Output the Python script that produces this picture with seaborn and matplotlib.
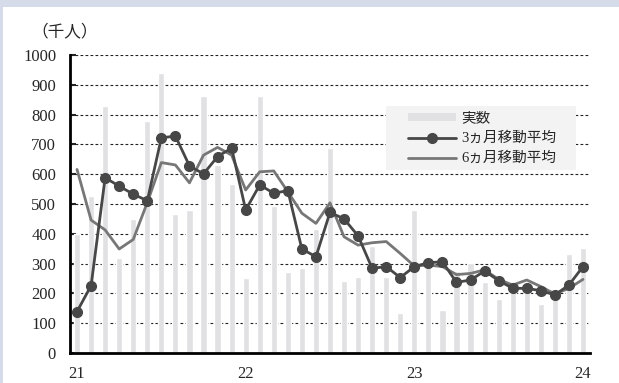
import numpy as np
import pandas as pd
import matplotlib
matplotlib.use("Agg")
import matplotlib.pyplot as plt
from matplotlib.patches import Patch, Rectangle
from matplotlib.lines import Line2D
import seaborn as sns

# monthly data, Jan 2021 - Jan 2024 (thousand people)
months = list(range(37))
actual = [400, 528, 830, 320, 450, 778, 940, 465, 480, 862, 630, 567,
          252, 862, 494, 272, 285, 417, 689, 243, 255, 360, 255, 134,
          480, 290, 144, 275, 303, 239, 180, 225, 212, 164, 200, 332,
          352]
ma3 = [139, 226, 588, 560, 533, 511, 722, 728, 628, 601, 659, 688,
       480, 564, 536, 545, 349, 323, 472, 450, 393, 284, 290, 253,
       290, 303, 306, 237, 245, 275, 243, 217, 217, 209, 195, 228,
       290]
ma6 = [616, 446, 413, 349, 381, 505, 639, 631, 571, 664, 690, 664,
       547, 608, 611, 541, 469, 435, 504, 390, 362, 370, 374, 334,
       292, 295, 290, 263, 267, 279, 247, 228, 245, 223, 198, 217,
       247]
year_ticks = [0, 12, 24, 36]
year_labels = ["21", "22", "23", "24"]

df = pd.DataFrame({"month": months, "actual": actual, "ma3": ma3, "ma6": ma6})

sns.set_style("white")
plt.rcParams["font.family"] = ["Liberation Serif", "Noto Sans CJK JP"]

fig = plt.figure(figsize=(6.19, 3.83), dpi=100)
fig.patch.set_facecolor("white")
# lavender page border (top and left strips)
fig.patches.append(Rectangle((0, 1 - 7 / 383), 1, 7 / 383, transform=fig.transFigure,
                             facecolor="#d5dbe9", edgecolor="none", zorder=-1))
fig.patches.append(Rectangle((0, 0), 3 / 619, 1, transform=fig.transFigure,
                             facecolor="#d5dbe9", edgecolor="none", zorder=-1))
ax = fig.add_axes([70 / 619, 30 / 383, 520 / 619, 298 / 383])
ax.set_facecolor("none")

sns.barplot(data=df, x="month", y="actual", color="#e1e1e3", saturation=1,
            width=0.44, ax=ax, zorder=2)
ax.plot(df["month"], df["ma6"], color="#777777", lw=2.0, zorder=3)
ax.plot(df["month"], df["ma3"], color="#474747", lw=2.0, marker="o",
        markersize=7, zorder=4)

ax.set_xlim(-0.5, 36.5)
ax.set_ylim(0, 1000)
ax.set_yticks(range(0, 1001, 100))
ax.set_xticks(year_ticks)
ax.set_xticklabels(year_labels)
ax.set_xticks(months, minor=True)
ax.set_xlabel("")
ax.set_ylabel("")

for y in range(100, 1001, 100):
    ax.axhline(y, color="#222222", lw=0.8, ls=(0, (2.5, 2)), zorder=1)

for s in ["top", "right"]:
    ax.spines[s].set_visible(False)
for s in ["left", "bottom"]:
    ax.spines[s].set_linewidth(2)
    ax.spines[s].set_color("black")
    ax.spines[s].set_zorder(5)

ax.tick_params(axis="y", which="both", direction="in", length=4, width=1.5,
               labelsize=12, pad=10, left=True)
ax.tick_params(axis="x", which="both", direction="in", length=4, width=1.5,
               labelsize=12, pad=9, bottom=True)

ax.text(-0.075, 1.077, "（千人）", transform=ax.transAxes, fontsize=12,
        ha="left", va="center", family="Noto Sans CJK JP")

# legend box
ax.add_patch(Rectangle((0.608, 0.614), 0.365, 0.215, transform=ax.transAxes,
                       facecolor="#f3f3f3", edgecolor="none", zorder=6))
handles = [Patch(facecolor="#e1e1e3", edgecolor="none"),
           Line2D([], [], color="#474747", lw=2.0, marker="o", markersize=7),
           Line2D([], [], color="#777777", lw=2.0)]
labels = ["実数", "3ヵ月移動平均", "6ヵ月移動平均"]
leg = ax.legend(handles, labels, loc="upper left", bbox_to_anchor=(0.650, 0.808),
                borderaxespad=0, frameon=False, fontsize=10.5,
                handlelength=3.3, handleheight=0.5, handletextpad=0.35,
                labelspacing=0.45, borderpad=0)
leg.set_zorder(7)

fig.savefig("out.png", dpi=100)
